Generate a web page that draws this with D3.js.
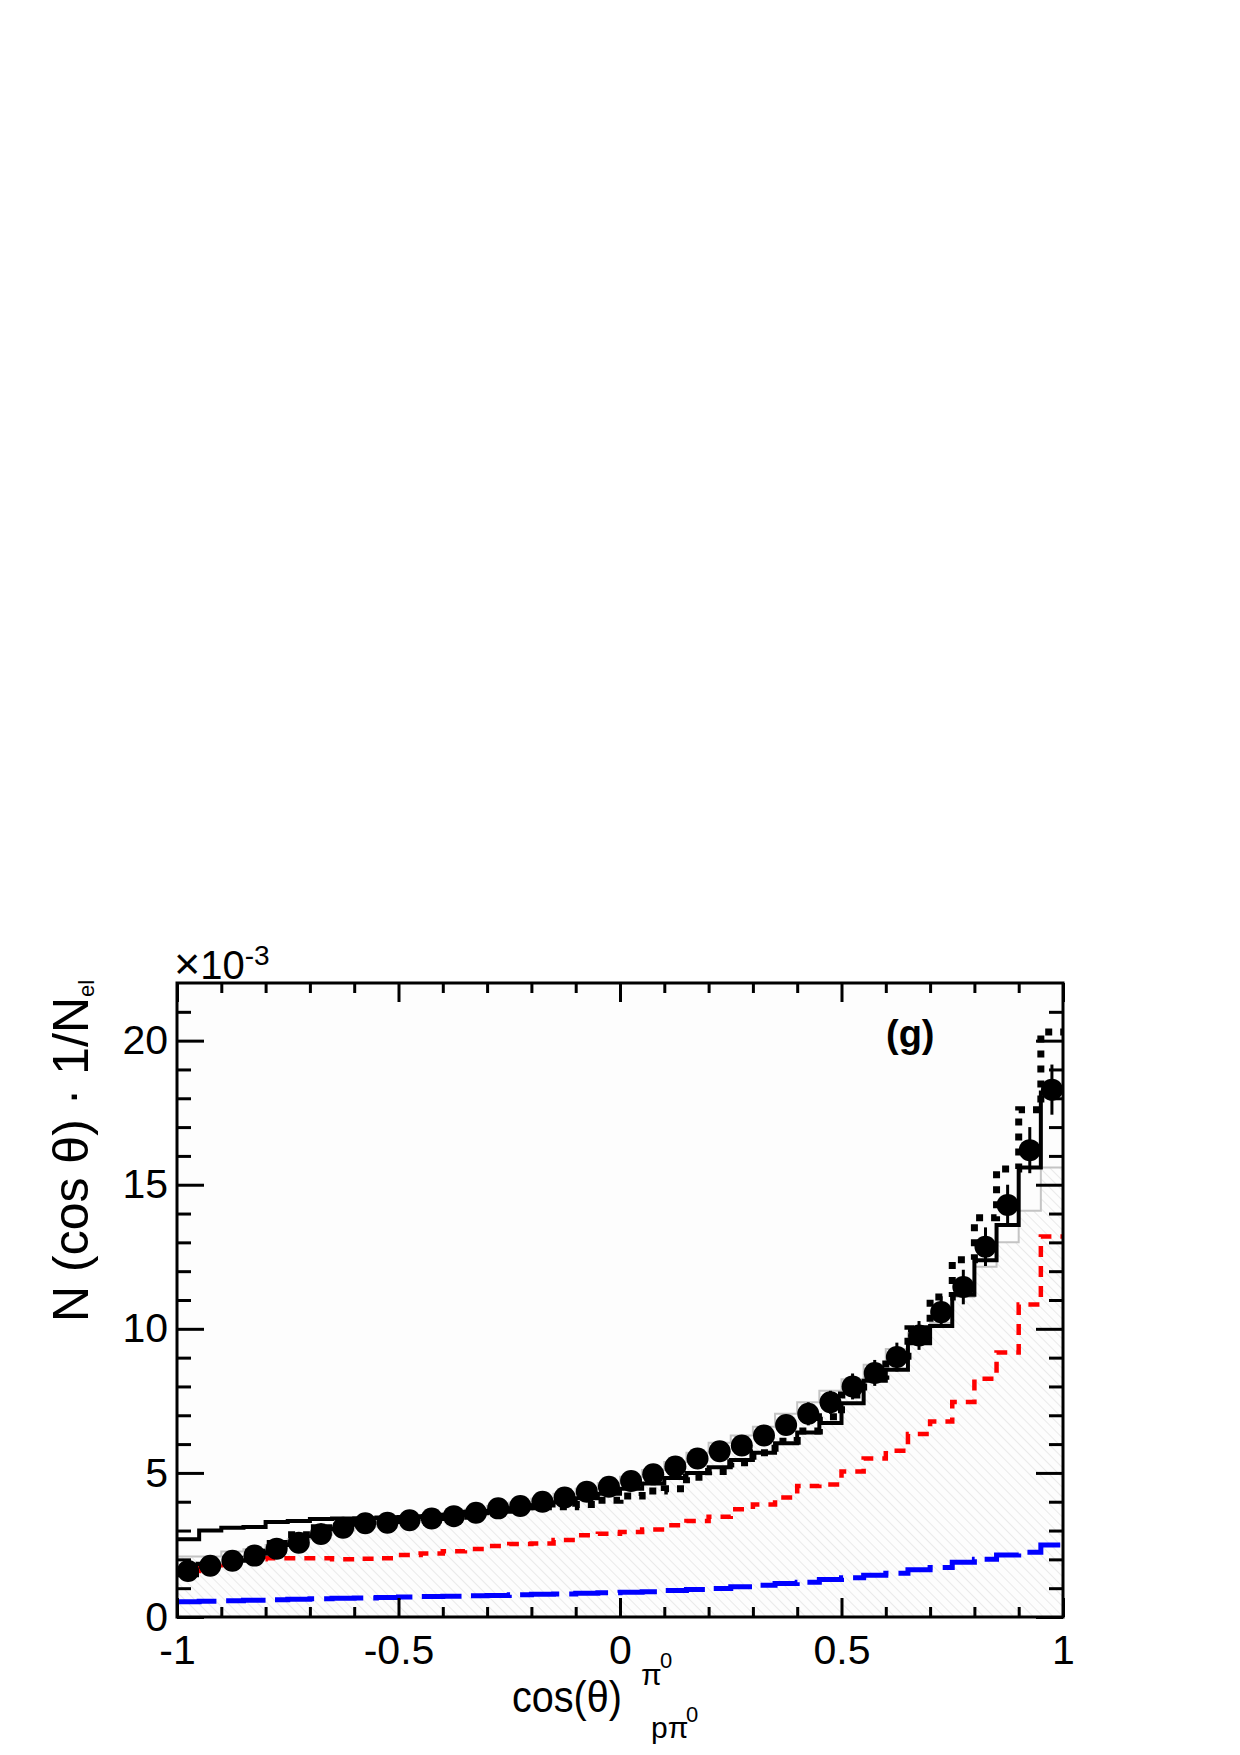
<!DOCTYPE html>
<html>
<head>
<meta charset="utf-8">
<script src="https://cdn.jsdelivr.net/npm/d3@7"></script>
<style>
  body { margin: 0; background: #ffffff; }
  text { font-family: "Liberation Sans", Arial, Helvetica, sans-serif; }
</style>
</head>
<body>
<div id="chart"></div>
<script>

// 40 bins of width 0.05 on [-1, 1]
const binEdges = [-1, -0.95, -0.9, -0.85, -0.8, -0.75, -0.7, -0.65, -0.6, -0.55, -0.5,
    -0.45, -0.4, -0.35, -0.3, -0.25, -0.2, -0.15, -0.1, -0.05, 0,
    0.05, 0.1, 0.15, 0.2, 0.25, 0.3, 0.35, 0.4, 0.45, 0.5,
    0.55, 0.6, 0.65, 0.7, 0.75, 0.8, 0.85, 0.9, 0.95, 1];

// measured points (x10^-3) and their errors
const dataValues = [1.6, 1.78, 1.95, 2.13, 2.37, 2.58, 2.88, 3.1, 3.25, 3.27,
    3.36, 3.42, 3.5, 3.62, 3.77, 3.85, 4.0, 4.15, 4.35, 4.52,
    4.72, 4.95, 5.22, 5.5, 5.75, 5.95, 6.3, 6.66, 7.05, 7.45,
    8.0, 8.47, 9.02, 9.77, 10.58, 11.45, 12.85, 14.3, 16.2, 18.3];
const dataErrors = [0.2, 0.2, 0.2, 0.2, 0.2, 0.2, 0.2, 0.2, 0.2, 0.2,
    0.2, 0.2, 0.2, 0.2, 0.2, 0.2, 0.2, 0.2, 0.25, 0.25,
    0.25, 0.25, 0.3, 0.3, 0.3, 0.3, 0.35, 0.35, 0.4, 0.4,
    0.45, 0.45, 0.5, 0.5, 0.55, 0.6, 0.67, 0.7, 0.8, 0.87];

// hatched grey model
const grayHist = [2.1, 2.1, 2.27, 2.35, 2.5, 2.7, 2.85, 3.0, 3.15, 3.3,
    3.4, 3.5, 3.6, 3.72, 3.85, 3.97, 4.1, 4.28, 4.45, 4.65,
    4.87, 5.1, 5.38, 5.7, 6.05, 6.3, 6.6, 7.05, 7.45, 7.85,
    8.25, 8.75, 9.3, 9.85, 10.2, 11.1, 12.15, 13.0, 14.1, 15.6];

// solid black model
const solidHist = [2.7, 3.0, 3.1, 3.12, 3.3, 3.33, 3.4, 3.42, 3.43, 3.45,
    3.47, 3.5, 3.55, 3.6, 3.68, 3.77, 3.87, 3.98, 4.12, 4.28,
    4.45, 4.63, 4.82, 5.0, 5.2, 5.45, 5.7, 6.03, 6.4, 6.73,
    7.42, 8.2, 8.58, 9.5, 10.1, 11.18, 12.38, 13.6, 15.6, 18.2];

// dotted black model
const dottedHist = [1.5, 1.8, 2.0, 2.25, 2.55, 2.85, 3.1, 3.25, 3.3, 3.35,
    3.4, 3.45, 3.5, 3.6, 3.7, 3.75, 3.83, 3.83, 3.9, 4.05,
    4.2, 4.37, 4.45, 4.85, 5.05, 5.35, 5.7, 6.1, 6.45, 6.95,
    7.7, 8.35, 9.05, 10.0, 11.1, 12.4, 13.85, 15.55, 17.6, 20.3];

// red dashed component
const redHist = [1.6, 1.8, 1.95, 2.0, 2.04, 2.04, 2.04, 2.0, 2.02, 2.04,
    2.15, 2.2, 2.28, 2.36, 2.46, 2.53, 2.55, 2.67, 2.84, 2.89,
    2.95, 3.04, 3.18, 3.33, 3.48, 3.74, 3.9, 4.15, 4.55, 4.6,
    5.05, 5.5, 5.77, 6.35, 6.78, 7.46, 8.27, 9.18, 10.84, 13.2];

// blue long-dashed component
const blueHist = [0.53, 0.55, 0.56, 0.58, 0.6, 0.62, 0.63, 0.65, 0.66, 0.68,
    0.69, 0.71, 0.72, 0.74, 0.75, 0.77, 0.79, 0.8, 0.82, 0.84,
    0.86, 0.88, 0.92, 0.95, 0.99, 1.05, 1.1, 1.16, 1.21, 1.3,
    1.36, 1.45, 1.52, 1.64, 1.72, 1.9, 2.0, 2.15, 2.25, 2.5];

const xMajorTicks = [-1, -0.5, 0, 0.5, 1];
const xMinorTicks = [-0.9, -0.8, -0.7, -0.6, -0.4, -0.3, -0.2, -0.1,
    0.1, 0.2, 0.3, 0.4, 0.6, 0.7, 0.8, 0.9];
const yMajorTicks = [0, 5, 10, 15, 20];
const yMinorTicks = [1, 2, 3, 4, 6, 7, 8, 9, 11, 12, 13, 14, 16, 17, 18, 19, 21];

const W = 1240, H = 1755;
const plot = { left: 177, right: 1063, top: 983, bottom: 1617 };

const svg = d3.select('#chart').append('svg')
    .attr('width', W).attr('height', H);

svg.append('rect').attr('width', W).attr('height', H).attr('fill', '#ffffff');

const x = d3.scaleLinear().domain([-1, 1]).range([plot.left, plot.right]);
const y = d3.scaleLinear().domain([0, 22]).range([plot.bottom, plot.top]);

let defs = svg.append('defs');
defs.append('clipPath').attr('id', 'plotclip')
    .append('rect')
    .attr('x', plot.left).attr('y', plot.top)
    .attr('width', plot.right - plot.left).attr('height', plot.bottom - plot.top);

let hatch = defs.append('pattern')
    .attr('id', 'hatch')
    .attr('patternUnits', 'userSpaceOnUse')
    .attr('width', 7).attr('height', 7)
    .attr('patternTransform', 'rotate(-45)');
hatch.append('line')
    .attr('x1', 0).attr('y1', 0).attr('x2', 0).attr('y2', 7)
    .attr('stroke', '#dcdcdc').attr('stroke-width', 1.2);

// plot background
svg.append('rect')
    .attr('x', plot.left).attr('y', plot.top)
    .attr('width', plot.right - plot.left).attr('height', plot.bottom - plot.top)
    .attr('fill', '#fdfdfd');

// step data: one point per bin edge, last edge repeats last bin
function steps(vals) {
    return binEdges.map((e, i) => ({ x: e, v: vals[Math.min(i, vals.length - 1)] }));
}

const stepLine = d3.line().x(d => x(d.x)).y(d => y(d.v)).curve(d3.curveStepAfter);
const stepArea = d3.area().x(d => x(d.x)).y0(y(0)).y1(d => y(d.v)).curve(d3.curveStepAfter);

let g = svg.append('g').attr('clip-path', 'url(#plotclip)');

g.append('path').attr('d', stepArea(steps(grayHist))).attr('fill', 'url(#hatch)');
g.append('path').attr('d', stepLine(steps(grayHist)))
    .attr('fill', 'none').attr('stroke', '#c4c4c4').attr('stroke-width', 2);

g.append('path').attr('d', stepLine(steps(blueHist)))
    .attr('fill', 'none').attr('stroke', '#0000ff').attr('stroke-width', 5)
    .attr('stroke-dasharray', '40 10');

g.append('path').attr('d', stepLine(steps(redHist)))
    .attr('fill', 'none').attr('stroke', '#ff0000').attr('stroke-width', 4.5)
    .attr('stroke-dasharray', '11 9');

g.append('path').attr('d', stepLine(steps(dottedHist)))
    .attr('fill', 'none').attr('stroke', '#000000').attr('stroke-width', 7)
    .attr('stroke-dasharray', '7 8');

g.append('path').attr('d', stepLine(steps(solidHist)))
    .attr('fill', 'none').attr('stroke', '#000000').attr('stroke-width', 4);

// data points
let centers = dataValues.map((v, i) => ({ c: (binEdges[i] + binEdges[i + 1]) / 2, v: v, e: dataErrors[i] }));

g.selectAll('.err').data(centers).enter().append('line')
    .attr('class', 'err')
    .attr('x1', d => x(d.c)).attr('x2', d => x(d.c))
    .attr('y1', d => y(d.v - d.e)).attr('y2', d => y(d.v + d.e))
    .attr('stroke', '#000').attr('stroke-width', 3);

g.selectAll('.pt').data(centers).enter().append('circle')
    .attr('class', 'pt')
    .attr('cx', d => x(d.c)).attr('cy', d => y(d.v))
    .attr('r', 11).attr('fill', '#000');

// axes, ticks pointing inside like ROOT
function styleAxis(sel) {
    sel.select('.domain').remove();
    sel.selectAll('.tick line').attr('stroke', '#000').attr('stroke-width', 3);
    sel.selectAll('text')
        .attr('font-family', '"Liberation Sans", Arial, Helvetica, sans-serif')
        .attr('font-size', 41).attr('fill', '#000');
}

svg.append('g').attr('transform', `translate(0,${plot.bottom})`)
    .call(d3.axisBottom(x).tickValues(xMajorTicks).tickSizeInner(-19).tickSizeOuter(0)
        .tickPadding(18).tickFormat(d => String(d)))
    .call(styleAxis);
svg.append('g').attr('transform', `translate(0,${plot.bottom})`)
    .call(d3.axisBottom(x).tickValues(xMinorTicks).tickSizeInner(-10).tickSizeOuter(0).tickFormat(''))
    .call(styleAxis);
svg.append('g').attr('transform', `translate(0,${plot.top})`)
    .call(d3.axisTop(x).tickValues(xMajorTicks).tickSizeInner(-19).tickSizeOuter(0).tickFormat(''))
    .call(styleAxis);
svg.append('g').attr('transform', `translate(0,${plot.top})`)
    .call(d3.axisTop(x).tickValues(xMinorTicks).tickSizeInner(-10).tickSizeOuter(0).tickFormat(''))
    .call(styleAxis);

svg.append('g').attr('transform', `translate(${plot.left},0)`)
    .call(d3.axisLeft(y).tickValues(yMajorTicks).tickSizeInner(-27).tickSizeOuter(0)
        .tickPadding(9).tickFormat(d => String(d)))
    .call(styleAxis);
svg.append('g').attr('transform', `translate(${plot.left},0)`)
    .call(d3.axisLeft(y).tickValues(yMinorTicks).tickSizeInner(-14).tickSizeOuter(0).tickFormat(''))
    .call(styleAxis);
svg.append('g').attr('transform', `translate(${plot.right},0)`)
    .call(d3.axisRight(y).tickValues(yMajorTicks).tickSizeInner(-27).tickSizeOuter(0).tickFormat(''))
    .call(styleAxis);
svg.append('g').attr('transform', `translate(${plot.right},0)`)
    .call(d3.axisRight(y).tickValues(yMinorTicks).tickSizeInner(-14).tickSizeOuter(0).tickFormat(''))
    .call(styleAxis);

// frame
svg.append('rect')
    .attr('x', plot.left).attr('y', plot.top)
    .attr('width', plot.right - plot.left).attr('height', plot.bottom - plot.top)
    .attr('fill', 'none').attr('stroke', '#000').attr('stroke-width', 3);

// exponent label, one text with a raised tspan
let expo = svg.append('text').attr('x', 174).attr('y', 979).attr('font-size', 40);
expo.append('tspan').attr('font-size', 45).text('\u00d7');
expo.append('tspan').text('10');
expo.append('tspan').attr('font-size', 28).attr('dy', -14).text('-3');

// panel label
svg.append('text').attr('x', 886).attr('y', 1047)
    .attr('font-size', 38).attr('font-weight', 'bold').text('(g)');

// y title
let yt = svg.append('text')
    .attr('transform', 'translate(88,1322) rotate(-90)')
    .attr('font-size', 50);
yt.append('tspan').text('N (cos \u03b8) \u00b7 1/N');
yt.append('tspan').attr('font-size', 22).attr('dy', 6).text('el');

// x title
svg.append('text').attr('x', 512).attr('y', 1712).attr('font-size', 45)
    .attr('textLength', 110).attr('lengthAdjust', 'spacingAndGlyphs').text('cos(\u03b8)');
svg.append('text').attr('x', 641).attr('y', 1685).attr('font-size', 30).text('\u03c0');
svg.append('text').attr('x', 660).attr('y', 1668).attr('font-size', 22).text('0');
svg.append('text').attr('x', 651).attr('y', 1738).attr('font-size', 30).text('p\u03c0');
svg.append('text').attr('x', 686).attr('y', 1722).attr('font-size', 22).text('0');

</script>
</body>
</html>
